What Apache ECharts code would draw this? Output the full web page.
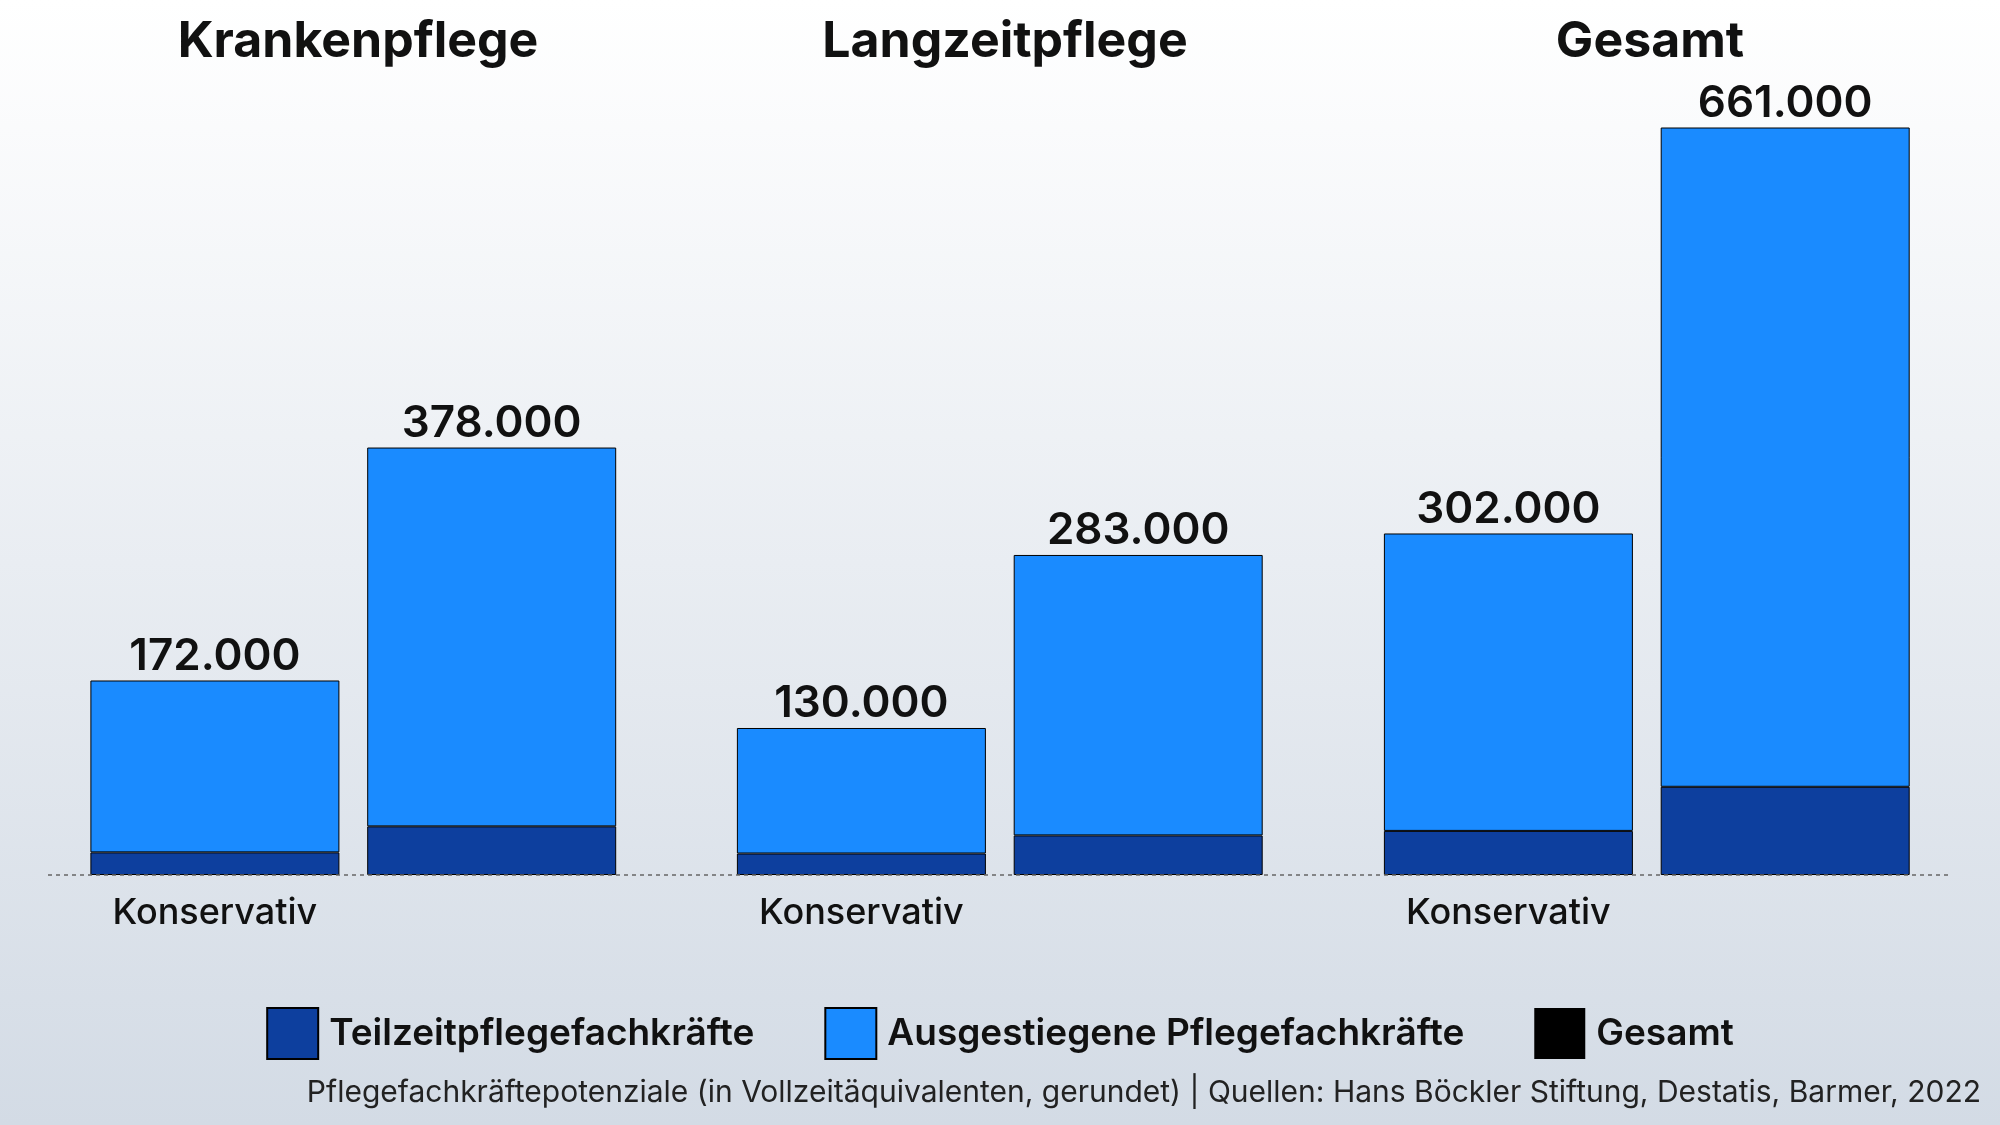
<!DOCTYPE html><html><head><meta charset="utf-8">
<script src="https://cdn.jsdelivr.net/npm/echarts@6/dist/echarts.min.js"></script>
<style>html,body{margin:0;padding:0}#c{width:2000px;height:1125px;background:linear-gradient(#ffffff,#d3dbe5)}</style>
</head><body><div id="c"></div><script>
const groups=['Krankenpflege','Langzeitpflege','Gesamt'];
const scenarios=['Konservativ','Optimistisch'];
const totals=[[172000,378000],[130000,283000],[302000,661000]];
const teilzeit=[[20000,43000],[19000,35000],[39000,78000]];
const F='Inter, Lato, sans-serif';
const chart=echarts.init(document.getElementById('c'));
const lefts=[76.5,723,1370];
const grid=[],xAxis=[],yAxis=[],series=[],title=[];
groups.forEach((g,i)=>{
 grid.push({left:lefts[i],width:553.6,top:127.5,bottom:250});
 xAxis.push({type:'category',gridIndex:i,data:scenarios,axisLine:{show:false},axisTick:{show:false},
  axisLabel:{fontFamily:F,fontSize:36,fontWeight:500,color:'#111',margin:20}});
 yAxis.push({type:'value',gridIndex:i,min:0,max:661000,show:false,splitLine:{show:false}});
 title.push({text:g,left:[353,1000,1645][i],top:12,textAlign:'center',textStyle:{fontFamily:F,fontSize:50,fontWeight:700,color:'#111'}});
 const ausg=totals[i].map((t,j)=>t-teilzeit[i][j]);
 series.push({name:'Teilzeitpflegefachkräfte',type:'bar',xAxisIndex:i,yAxisIndex:i,stack:'s'+i,barWidth:249,data:teilzeit[i],
  itemStyle:{color:'#0d3f9e',borderColor:'#000',borderWidth:1}});
 series.push({name:'Ausgestiegene Pflegefachkräfte',type:'bar',xAxisIndex:i,yAxisIndex:i,stack:'s'+i,barWidth:249,data:ausg,
  itemStyle:{color:'#1a8bff',borderColor:'#000',borderWidth:1},
  label:{show:true,position:'top',distance:2,fontFamily:F,fontSize:44,fontWeight:600,color:'#111',
   formatter:p=>totals[i][p.dataIndex].toLocaleString('de-DE')}});
 series.push({name:'Gesamt',type:'bar',xAxisIndex:i,yAxisIndex:i,stack:'s'+i,barWidth:249,data:[0,0],itemStyle:{color:'#000'}});
});
chart.setOption({
 title,grid,xAxis,yAxis,series,animation:false,
 legend:{data:['Teilzeitpflegefachkräfte','Ausgestiegene Pflegefachkräfte','Gesamt'],left:'center',top:1002,itemWidth:51,itemHeight:51,itemGap:70,
  icon:'rect',textStyle:{fontFamily:F,fontSize:37,fontWeight:600,color:'#111',padding:[0,0,0,6]}},
 graphic:[
  {type:'line',shape:{x1:48,y1:875,x2:1952,y2:875},style:{stroke:'#666',lineWidth:1.5,lineDash:[4,4]},z:100},
  {type:'text',right:19,top:1078,style:{text:'Pflegefachkräftepotenziale (in Vollzeitäquivalenten, gerundet) | Quellen: Hans Böckler Stiftung, Destatis, Barmer, 2022',font:'400 30px '+F,fill:'#222'}}
 ]
});
</script></body></html>
